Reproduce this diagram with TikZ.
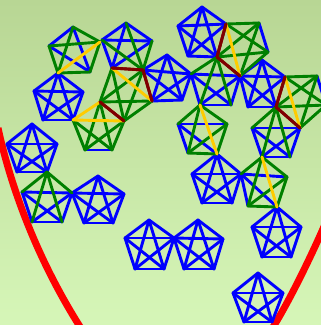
\documentclass[tikz,border=0pt]{standalone}
\definecolor{bgtop}{RGB}{184,214,148}
\definecolor{bgbot}{RGB}{214,246,184}
\definecolor{kb}{RGB}{0,0,255}
\definecolor{kg}{RGB}{0,128,0}
\definecolor{ky}{RGB}{255,204,0}
\definecolor{kr}{RGB}{128,0,0}
\definecolor{curvered}{RGB}{255,0,0}
\tikzset{
  kedge/.style={line width=2.9pt, line cap=round},
  redcurve/.style={line width=7pt, draw=curvered},
}
% a list of edges u/v/colour; only the edges of the colour \pass are drawn
\def\pass{kb}
\newcommand\kedges[1]{\foreach \u/\v/\c in {#1}{\edef\tmpc{\c}\ifx\tmpc\pass\draw[kedge, draw=\c] (\u)--(\v);\fi}}
% a complete graph on five vertices, all blue
\newcommand\kblue[5]{\kedges{#1/#2/kb,#1/#3/kb,#1/#4/kb,#1/#5/kb,#2/#3/kb,#2/#4/kb,#2/#5/kb,#3/#4/kb,#3/#5/kb,#4/#5/kb}}
\newcommand\allgraphs{%
\kblue{bl1}{l3}{r3}{bl3}{br3}%
\kblue{t14}{l14}{r14}{bl14}{br14}%
\kblue{t16}{r15}{r16}{bl16}{br16}%
\kblue{t17}{l17}{r17}{bl17}{br17}%
\kblue{t18}{r17}{r18}{bl18}{br18}%
\kblue{br12}{l19}{r19}{bl19}{br19}%
\kblue{br20}{l21}{r21}{bl21}{br21}%
\kblue{t22}{l22}{r22}{bl22}{br22}%
\kedges{t1/l1/kb,t1/r1/kg,t1/bl1/kg,t1/br1/kb,l1/r1/kg,l1/bl1/kg,l1/br1/kb,r1/bl1/ky,r1/br1/kg,bl1/br1/kg}%
\kedges{t2/l2/kb,t2/r2/kb,t2/A5/kb,t2/B5/kg,l2/r2/kb,l2/A5/kb,l2/B5/kg,r2/A5/kb,r2/B5/kg,A5/B5/kr}%
\kedges{t4/br3/ky,t4/D5/kr,t4/bl4/kg,t4/br4/kg,br3/D5/ky,br3/bl4/kg,br3/br4/kg,D5/bl4/kg,D5/br4/kg,bl4/br4/kb}%
\kedges{A5/B5/kr,A5/C5/ky,A5/D5/kg,A5/t4/kg,B5/C5/kr,B5/D5/kg,B5/t4/kg,C5/D5/kg,C5/t4/kg,D5/t4/kr}%
\kedges{t6/B5/kb,t6/r6/kb,t6/C5/kb,t6/br6/kb,B5/r6/kb,B5/C5/kr,B5/br6/kb,r6/C5/kb,r6/br6/kb,C5/br6/kb}%
\kedges{t7/l7/kb,t7/r7/kb,t7/bl7/kb,t7/br7/kb,l7/r7/kb,l7/bl7/kb,l7/br7/kb,r7/bl7/kb,r7/br7/kr,bl7/br7/kb}%
\kedges{r7/b8/kg,r7/c8/kg,r7/d8/ky,r7/br7/kr,b8/c8/kb,b8/d8/kg,b8/br7/kg,c8/d8/kg,c8/br7/kg,d8/br7/kr}%
\kedges{br7/r6/kg,br7/d8/kr,br7/bl9/kg,br7/br9/kg,r6/d8/kb,r6/bl9/kb,r6/br9/kb,d8/bl9/kb,d8/br9/kb,bl9/br9/kb}%
\kedges{t10/d8/kb,t10/r10/kb,t10/bl10/kb,t10/br10/kb,d8/r10/kb,d8/bl10/kb,d8/br10/kb,r10/bl10/kb,r10/br10/kr,bl10/br10/kb}%
\kedges{r10/b11/kg,r10/c11/kg,r10/d11/ky,r10/br10/kr,b11/c11/kb,b11/d11/kg,b11/br10/kg,c11/d11/kg,c11/br10/kg,d11/br10/kr}%
\kedges{bl9/l12/kg,bl9/r12/kg,bl9/bl12/kg,bl9/br12/ky,l12/r12/kb,l12/bl12/kb,l12/br12/kb,r12/bl12/kg,r12/br12/kg,bl12/br12/kg}%
\kedges{br10/l13/kg,br10/d11/kr,br10/bl13/kg,br10/br13/kg,l13/d11/kb,l13/bl13/kb,l13/br13/kb,d11/bl13/kb,d11/br13/kb,bl13/br13/kb}%
\kedges{br14/l15/kg,br14/r15/kg,br14/bl15/kg,br14/br15/kg,l15/r15/kb,l15/bl15/kb,l15/br15/kb,r15/bl15/kb,r15/br15/kb,bl15/br15/kb}%
\kedges{bl13/r19/kg,bl13/r20/kg,bl13/bl20/kg,bl13/br20/ky,r19/r20/kb,r19/bl20/kb,r19/br20/kb,r20/bl20/kg,r20/br20/kg,bl20/br20/kg}%
}
\begin{document}
\begin{tikzpicture}[x=1pt,y=-1pt]
\useasboundingbox (0,0) rectangle (321,325);
\clip (0,0) rectangle (321,325);
\shade[top color=bgtop, bottom color=bgbot] (0,0) rectangle (321,325);
% red curve
\coordinate (ca) at (-2,128); \coordinate (cb) at (84,333);
\coordinate (cc) at (268,335); \coordinate (cd) at (326,222);
\draw[redcurve] (ca) .. controls (11,188) and (38,262) .. (cb);
\draw[redcurve] (cc) .. controls (288,305) and (314,250) .. (cd);
% vertices
\coordinate (t1) at (73,27); \coordinate (l1) at (49,46); \coordinate (r1) at (100,42);
\coordinate (bl1) at (58,73); \coordinate (br1) at (90,72);
\coordinate (l3) at (34,91); \coordinate (r3) at (83,92); \coordinate (bl3) at (43,120); \coordinate (br3) at (73,120);
\coordinate (t4) at (100,102); \coordinate (bl4) at (85,150); \coordinate (br4) at (112,150);
\coordinate (t2) at (126,23); \coordinate (l2) at (102,40); \coordinate (r2) at (152,41);
\coordinate (A5) at (112,68); \coordinate (B5) at (143,70); \coordinate (C5) at (152,101); \coordinate (D5) at (124,121);
\coordinate (t6) at (167,55); \coordinate (r6) at (191,74); \coordinate (br6) at (182,100);
\coordinate (t7) at (202,7); \coordinate (l7) at (178,26); \coordinate (r7) at (226,24);
\coordinate (bl7) at (188,56); \coordinate (br7) at (217,57);
\coordinate (b8) at (259,23); \coordinate (c8) at (268,52); \coordinate (d8) at (240,76);
\coordinate (bl9) at (200,105); \coordinate (br9) at (231,105);
\coordinate (t10) at (262,60); \coordinate (r10) at (285,77); \coordinate (bl10) at (248,107); \coordinate (br10) at (276,107);
\coordinate (b11) at (317,76); \coordinate (c11) at (326,105); \coordinate (d11) at (300,128);
\coordinate (l13) at (252,128); \coordinate (bl13) at (262,157); \coordinate (br13) at (290,157);
\coordinate (l12) at (178,124); \coordinate (r12) at (227,124); \coordinate (bl12) at (188,153); \coordinate (br12) at (217,154);
\coordinate (l19) at (192,174); \coordinate (r19) at (241,174); \coordinate (bl19) at (202,203); \coordinate (br19) at (232,203);
\coordinate (r20) at (287,177); \coordinate (bl20) at (248,206); \coordinate (br20) at (277,207);
\coordinate (l21) at (252,227); \coordinate (r21) at (301,227); \coordinate (bl21) at (262,257); \coordinate (br21) at (291,257);
\coordinate (t22) at (258,273); \coordinate (l22) at (233,293); \coordinate (r22) at (283,293); \coordinate (bl22) at (244,322); \coordinate (br22) at (272,322);
\coordinate (t14) at (32,124); \coordinate (l14) at (7,144); \coordinate (r14) at (57,144); \coordinate (bl14) at (17,172); \coordinate (br14) at (47,172);
\coordinate (l15) at (22,192); \coordinate (r15) at (72,193); \coordinate (bl15) at (32,222); \coordinate (br15) at (62,222);
\coordinate (t16) at (98,176); \coordinate (r16) at (124,194); \coordinate (bl16) at (84,223); \coordinate (br16) at (113,223);
\coordinate (t17) at (149,220); \coordinate (l17) at (125,238); \coordinate (r17) at (174,238); \coordinate (bl17) at (135,269); \coordinate (br17) at (164,269);
\coordinate (t18) at (198,220); \coordinate (r18) at (223,239); \coordinate (bl18) at (184,269); \coordinate (br18) at (214,269);
% edges, one colour after the other: blue, green, yellow, dark red
\def\pass{kb}\allgraphs
\def\pass{kg}\allgraphs
\def\pass{ky}\allgraphs
\def\pass{kr}\allgraphs
\end{tikzpicture}
\end{document}
